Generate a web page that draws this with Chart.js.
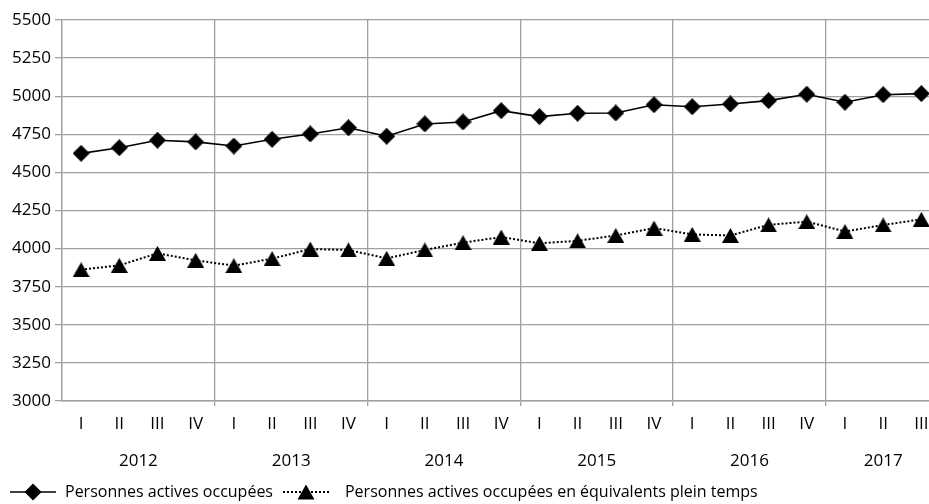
<!DOCTYPE html>
<html><head><meta charset="utf-8">
<script src="https://cdn.jsdelivr.net/npm/chart.js@4.4.0/dist/chart.umd.min.js"></script>
<style>html,body{margin:0;padding:0;background:#fff;overflow:hidden}#wrap{width:929px;height:504px;position:relative}</style>
</head><body><div id="wrap"><canvas id="c" width="929" height="504"></canvas></div>
<script>
const quarters = ['I','II','III','IV','I','II','III','IV','I','II','III','IV','I','II','III','IV','I','II','III','IV','I','II','III'];
const years = ['2012','2013','2014','2015','2016','2017'];
const yTicks = [3000,3250,3500,3750,4000,4250,4500,4750,5000,5250,5500];
const activeEmployed = [4625,4662,4711,4700,4673,4717,4752,4793,4737,4818,4831,4905,4866,4888,4890,4944,4931,4949,4971,5013,4960,5010,5017];
const fullTimeEquivalent = [3862,3890,3969,3923,3888,3934,3997,3991,3936,3991,4039,4076,4035,4051,4086,4135,4093,4086,4156,4177,4112,4155,4192];
const seriesLabels = ['Personnes actives occupées','Personnes actives occupées en équivalents plein temps'];

const FONT = "'Open Sans', sans-serif";
const GRID = '#a0a0a0';

// year groups derived from the quarter labels
const yearStarts = [];
quarters.forEach((q,i)=>{ if(q==='I') yearStarts.push(i); });
const yearCenters = yearStarts.map((s,k)=>{ const e = (k+1<yearStarts.length? yearStarts[k+1]: quarters.length)-1; return (s+e)/2; });
const yearBounds = yearStarts.slice(1).map(s=>s-0.5);

function drawDiamond(ctx, cx, cy, r){
  ctx.beginPath(); ctx.moveTo(cx,cy-r); ctx.lineTo(cx+r,cy); ctx.lineTo(cx,cy+r); ctx.lineTo(cx-r,cy); ctx.closePath(); ctx.fill();
}
function drawTri(ctx, cx, cy, w, h){
  ctx.beginPath(); ctx.moveTo(cx,cy-h/2); ctx.lineTo(cx+w/2,cy+h/2); ctx.lineTo(cx-w/2,cy+h/2); ctx.closePath(); ctx.fill();
}
function markerCanvas(kind){
  const c = document.createElement('canvas');
  c.width = 17; c.height = kind==='d'?17:15;
  const x = c.getContext('2d'); x.fillStyle='#000';
  if(kind==='d') drawDiamond(x,8.5,8.5,8.5); else drawTri(x,8.5,7.5,17,15);
  return c;
}
function legendCanvas(kind){
  const c = document.createElement('canvas'); c.width=46; c.height=18;
  const x = c.getContext('2d'); x.strokeStyle='#000'; x.fillStyle='#000';
  x.lineWidth = kind==='d'?1.6:2; if(kind!=='d') x.setLineDash([2,2]);
  x.beginPath(); x.moveTo(0,9); x.lineTo(46,9); x.stroke();
  if(kind==='d') drawDiamond(x,23,9,8.5); else drawTri(x,23,9,17,15);
  return c;
}
const diamondImg = markerCanvas('d'), triImg = markerCanvas('t');
const legImgs = [legendCanvas('d'), legendCanvas('t')];

const legendPlugin = {
  id:'customLegend',
  afterDraw(chart){
    const ctx = chart.ctx; ctx.save();
    ctx.font = '16px ' + FONT; ctx.fillStyle='#000'; ctx.textBaseline='middle'; ctx.textAlign='left';
    const y = 492;
    let x = 10;
    chart.data.datasets.forEach((ds,i)=>{
      ctx.drawImage(legImgs[i], x, y-9);
      const tx = x + 46 + (i===0?9:16);
      ctx.fillText(ds.label, tx, y);
      x = tx + ctx.measureText(ds.label).width + 10;
    });
    ctx.restore();
  }
};

new Chart(document.getElementById('c'), {
  type:'line',
  data:{ datasets:[
    {label:seriesLabels[0], data:activeEmployed.map((v,i)=>({x:i,y:v})), borderColor:'#000', backgroundColor:'#000', borderWidth:1.6,
     pointStyle:diamondImg, pointRadius:9, pointHoverRadius:9, tension:0, clip:false},
    {label:seriesLabels[1], data:fullTimeEquivalent.map((v,i)=>({x:i,y:v})), borderColor:'#000', backgroundColor:'#000', borderWidth:2, borderDash:[2,2],
     pointStyle:triImg, pointRadius:9, pointHoverRadius:9, tension:0, clip:false}
  ]},
  options:{
    responsive:false, animation:false, devicePixelRatio:1,
    layout:{autoPadding:false, padding:{top:20, right:0, left:0, bottom:33}},
    plugins:{legend:{display:false}, tooltip:{enabled:false}},
    scales:{
      x:{type:'linear', position:'bottom', weight:0, min:-0.5, max:22.2,
        afterBuildTicks:s=>{ s.ticks = quarters.map((q,i)=>({value:i})).concat(yearBounds.map(v=>({value:v}))); },
        afterFit:s=>{ s.height = 32; },
        ticks:{autoSkip:false, maxRotation:0, padding:8, color:'#000', font:{family:FONT,size:17},
          callback:(v)=> Number.isInteger(v)? quarters[v] : ''},
        grid:{color:c=> (c.tick && !Number.isInteger(c.tick.value))? GRID : 'rgba(0,0,0,0)', lineWidth:1.3, tickLength:5},
        border:{color:GRID, width:1.5}
      },
      xYear:{type:'linear', position:'bottom', weight:1, min:-0.5, max:22.2,
        afterBuildTicks:s=>{ s.ticks = yearCenters.map(v=>({value:v})); },
        afterFit:s=>{ s.height = 38; },
        ticks:{autoSkip:false, maxRotation:0, padding:18, color:'#000', font:{family:FONT,size:17},
          callback:(v)=>{ const k = yearCenters.indexOf(v); return k>=0? years[k]:''; }},
        grid:{display:false, drawTicks:false}, border:{display:false}
      },
      y:{min:3000, max:5500,
        afterBuildTicks:s=>{ s.ticks = yTicks.map(v=>({value:v})); },
        afterFit:s=>{ s.width = 62; },
        ticks:{padding:4, color:'#000', font:{family:FONT,size:17}, callback:v=>String(v)},
        grid:{color:GRID, lineWidth:1.3, tickLength:7},
        border:{color:GRID, width:1.5}
      }
    }
  },
  plugins:[legendPlugin]
});
</script></body></html>
